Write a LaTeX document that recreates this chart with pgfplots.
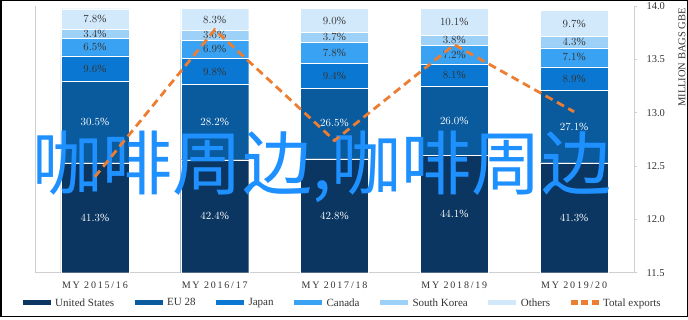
\documentclass[border=0pt]{standalone}
\usepackage{pgfplots}
\pgfplotsset{compat=1.18}
\usepackage{fontspec}
\setmainfont{Liberation Serif}
\newfontfamily\spacedserif[LetterSpace=18]{Liberation Serif}
\newfontfamily\cjkfont{Noto Sans CJK SC}[BoldFont={Noto Sans CJK SC Bold}]
\definecolor{cUS}{HTML}{0A3661}
\definecolor{cEU}{HTML}{0A5A9E}
\definecolor{cJP}{HTML}{0A78D2}
\definecolor{cCA}{HTML}{3AA2F2}
\definecolor{cSK}{HTML}{9ED1F8}
\definecolor{cOT}{HTML}{D2E9FC}
\definecolor{cTot}{HTML}{ED7D31}
\definecolor{overlayblue}{HTML}{1E90FF}
\definecolor{axisgray}{HTML}{CFCFCF}
\definecolor{txtgray}{HTML}{333333}
\begin{document}
\begin{tikzpicture}[x=1bp,y=1bp]
\useasboundingbox (0,0) rectangle (688,319);
\draw[line width=1.5bp] (0.75,2.5) rectangle (687.25,318.25);
% ---------- stacked bars ----------
\begin{axis}[
  at={(35bp,46.3bp)}, anchor=south west, scale only axis,
  width=599bp, height=266.4bp,
  xmin=-0.5, xmax=4.5, ymin=0, ymax=100,
  ybar stacked, bar width=68bp,
  axis x line*=bottom, axis y line*=left,
  axis line style={draw=axisgray, line width=0.8bp},
  ytick=\empty, xtick={0,1,2,3,4},
  xticklabels={MY 2015/16, MY 2016/17, MY 2017/18, MY 2018/19, MY 2019/20},
  major tick length=0pt,
  xticklabel style={font=\spacedserif\fontsize{10bp}{12bp}\selectfont, text=txtgray, yshift=-6bp},
]
\addplot[fill=cUS, draw=white, line width=0.3bp] coordinates {(0,41.3) (1,42.4) (2,42.8) (3,44.1) (4,41.3)};
\addplot[fill=cEU, draw=white, line width=0.3bp] coordinates {(0,30.5) (1,28.2) (2,26.5) (3,26.0) (4,27.1)};
\addplot[fill=cJP, draw=white, line width=0.3bp] coordinates {(0,9.6) (1,9.8) (2,9.4) (3,8.1) (4,8.9)};
\addplot[fill=cCA, draw=white, line width=0.3bp] coordinates {(0,6.5) (1,6.9) (2,7.8) (3,7.2) (4,7.1)};
\addplot[fill=cSK, draw=white, line width=0.3bp] coordinates {(0,3.4) (1,3.6) (2,3.7) (3,3.8) (4,4.3)};
\addplot[fill=cOT, draw=white, line width=0.3bp] coordinates {(0,7.8) (1,8.3) (2,9.0) (3,10.1) (4,9.7)};
\end{axis}
% ---------- data labels ----------
\begin{axis}[
  at={(35bp,46.3bp)}, anchor=south west, scale only axis,
  width=599bp, height=266.4bp,
  xmin=-0.5, xmax=4.5, ymin=0, ymax=100, hide axis,
  nodes near coords={\pgfmathprintnumber[fixed,fixed zerofill,precision=1]{\pgfplotspointmeta}\%},
  nodes near coords style={anchor=center, inner sep=0pt, font=\fontsize{11bp}{13bp}\selectfont},
]
\addplot[draw=none, mark=none, point meta=explicit, nodes near coords style={text=white}] table[meta=v] {
x y v
0 20.65 41.3
1 21.2 42.4
2 21.4 42.8
3 22.05 44.1
4 20.65 41.3
0 56.55 30.5
1 56.5 28.2
2 56.05 26.5
3 57.1 26.0
4 54.85 27.1
};
\addplot[draw=none, mark=none, point meta=explicit, nodes near coords style={text=txtgray}] table[meta=v] {
x y v
0 76.6 9.6
1 75.5 9.8
2 74.0 9.4
3 74.15 8.1
4 72.85 8.9
0 84.65 6.5
1 83.85 6.9
2 82.6 7.8
3 81.8 7.2
4 80.85 7.1
0 89.6 3.4
1 89.1 3.6
2 88.35 3.7
3 87.3 3.8
4 86.55 4.3
0 95.2 7.8
1 95.05 8.3
2 94.7 9.0
3 94.25 10.1
4 93.55 9.7
};
\end{axis}
% ---------- overlay text ----------
\node[inner sep=0pt, text=overlayblue, font=\cjkfont\fontsize{70bp}{70bp}\selectfont] at (322,152) {咖啡周边,咖啡周边};
% ---------- total exports (secondary axis) ----------
\begin{axis}[
  at={(35bp,46.3bp)}, anchor=south west, scale only axis,
  width=599bp, height=266.4bp,
  xmin=-0.5, xmax=4.5, ymin=11.5, ymax=14,
  axis x line=none, axis y line*=right,
  axis line style={draw=axisgray, line width=0.8bp},
  ytick={11.5,12,12.5,13,13.5,14},
  tick align=outside, major tick length=3bp,
  tick style={draw=axisgray, line width=0.8bp},
  yticklabel style={font=\fontsize{10.5bp}{12bp}\selectfont, text=txtgray, xshift=6bp,
    /pgf/number format/.cd, fixed, fixed zerofill, precision=1, assume math mode=true},
  legend columns=7,
  legend image code/.code={\draw[line width=5bp, #1] (0bp,0bp) -- (28bp,0bp);},
  legend style={at={(-0.025,-0.1137)}, anchor=west, draw=none, fill=none, inner sep=0pt,
    font=\fontsize{11bp}{13bp}\selectfont, text=txtgray,
    /tikz/every even column/.append style={column sep=16bp}},
]
\addlegendimage{color=cUS}\addlegendentry{United States}
\addlegendimage{color=cEU}\addlegendentry{EU 28}
\addlegendimage{color=cJP}\addlegendentry{Japan}
\addlegendimage{color=cCA}\addlegendentry{Canada}
\addlegendimage{color=cSK}\addlegendentry{South Korea}
\addlegendimage{color=cOT}\addlegendentry{Others}
\addlegendimage{color=cTot, line width=3bp, dash pattern=on 7bp off 3.5bp}\addlegendentry{Total exports}
\addplot[forget plot, color=cTot, line width=2.8bp, dash pattern=on 8bp off 5bp] coordinates {(0,12.40) (1,13.78) (2,12.74) (3,13.64) (4,13.01)};
\end{axis}
\node[rotate=90, anchor=east, inner sep=0pt, text=txtgray, font=\fontsize{10.5bp}{12bp}\selectfont] at (682,311) {MILLION BAGS GBE};
\end{tikzpicture}
\end{document}
